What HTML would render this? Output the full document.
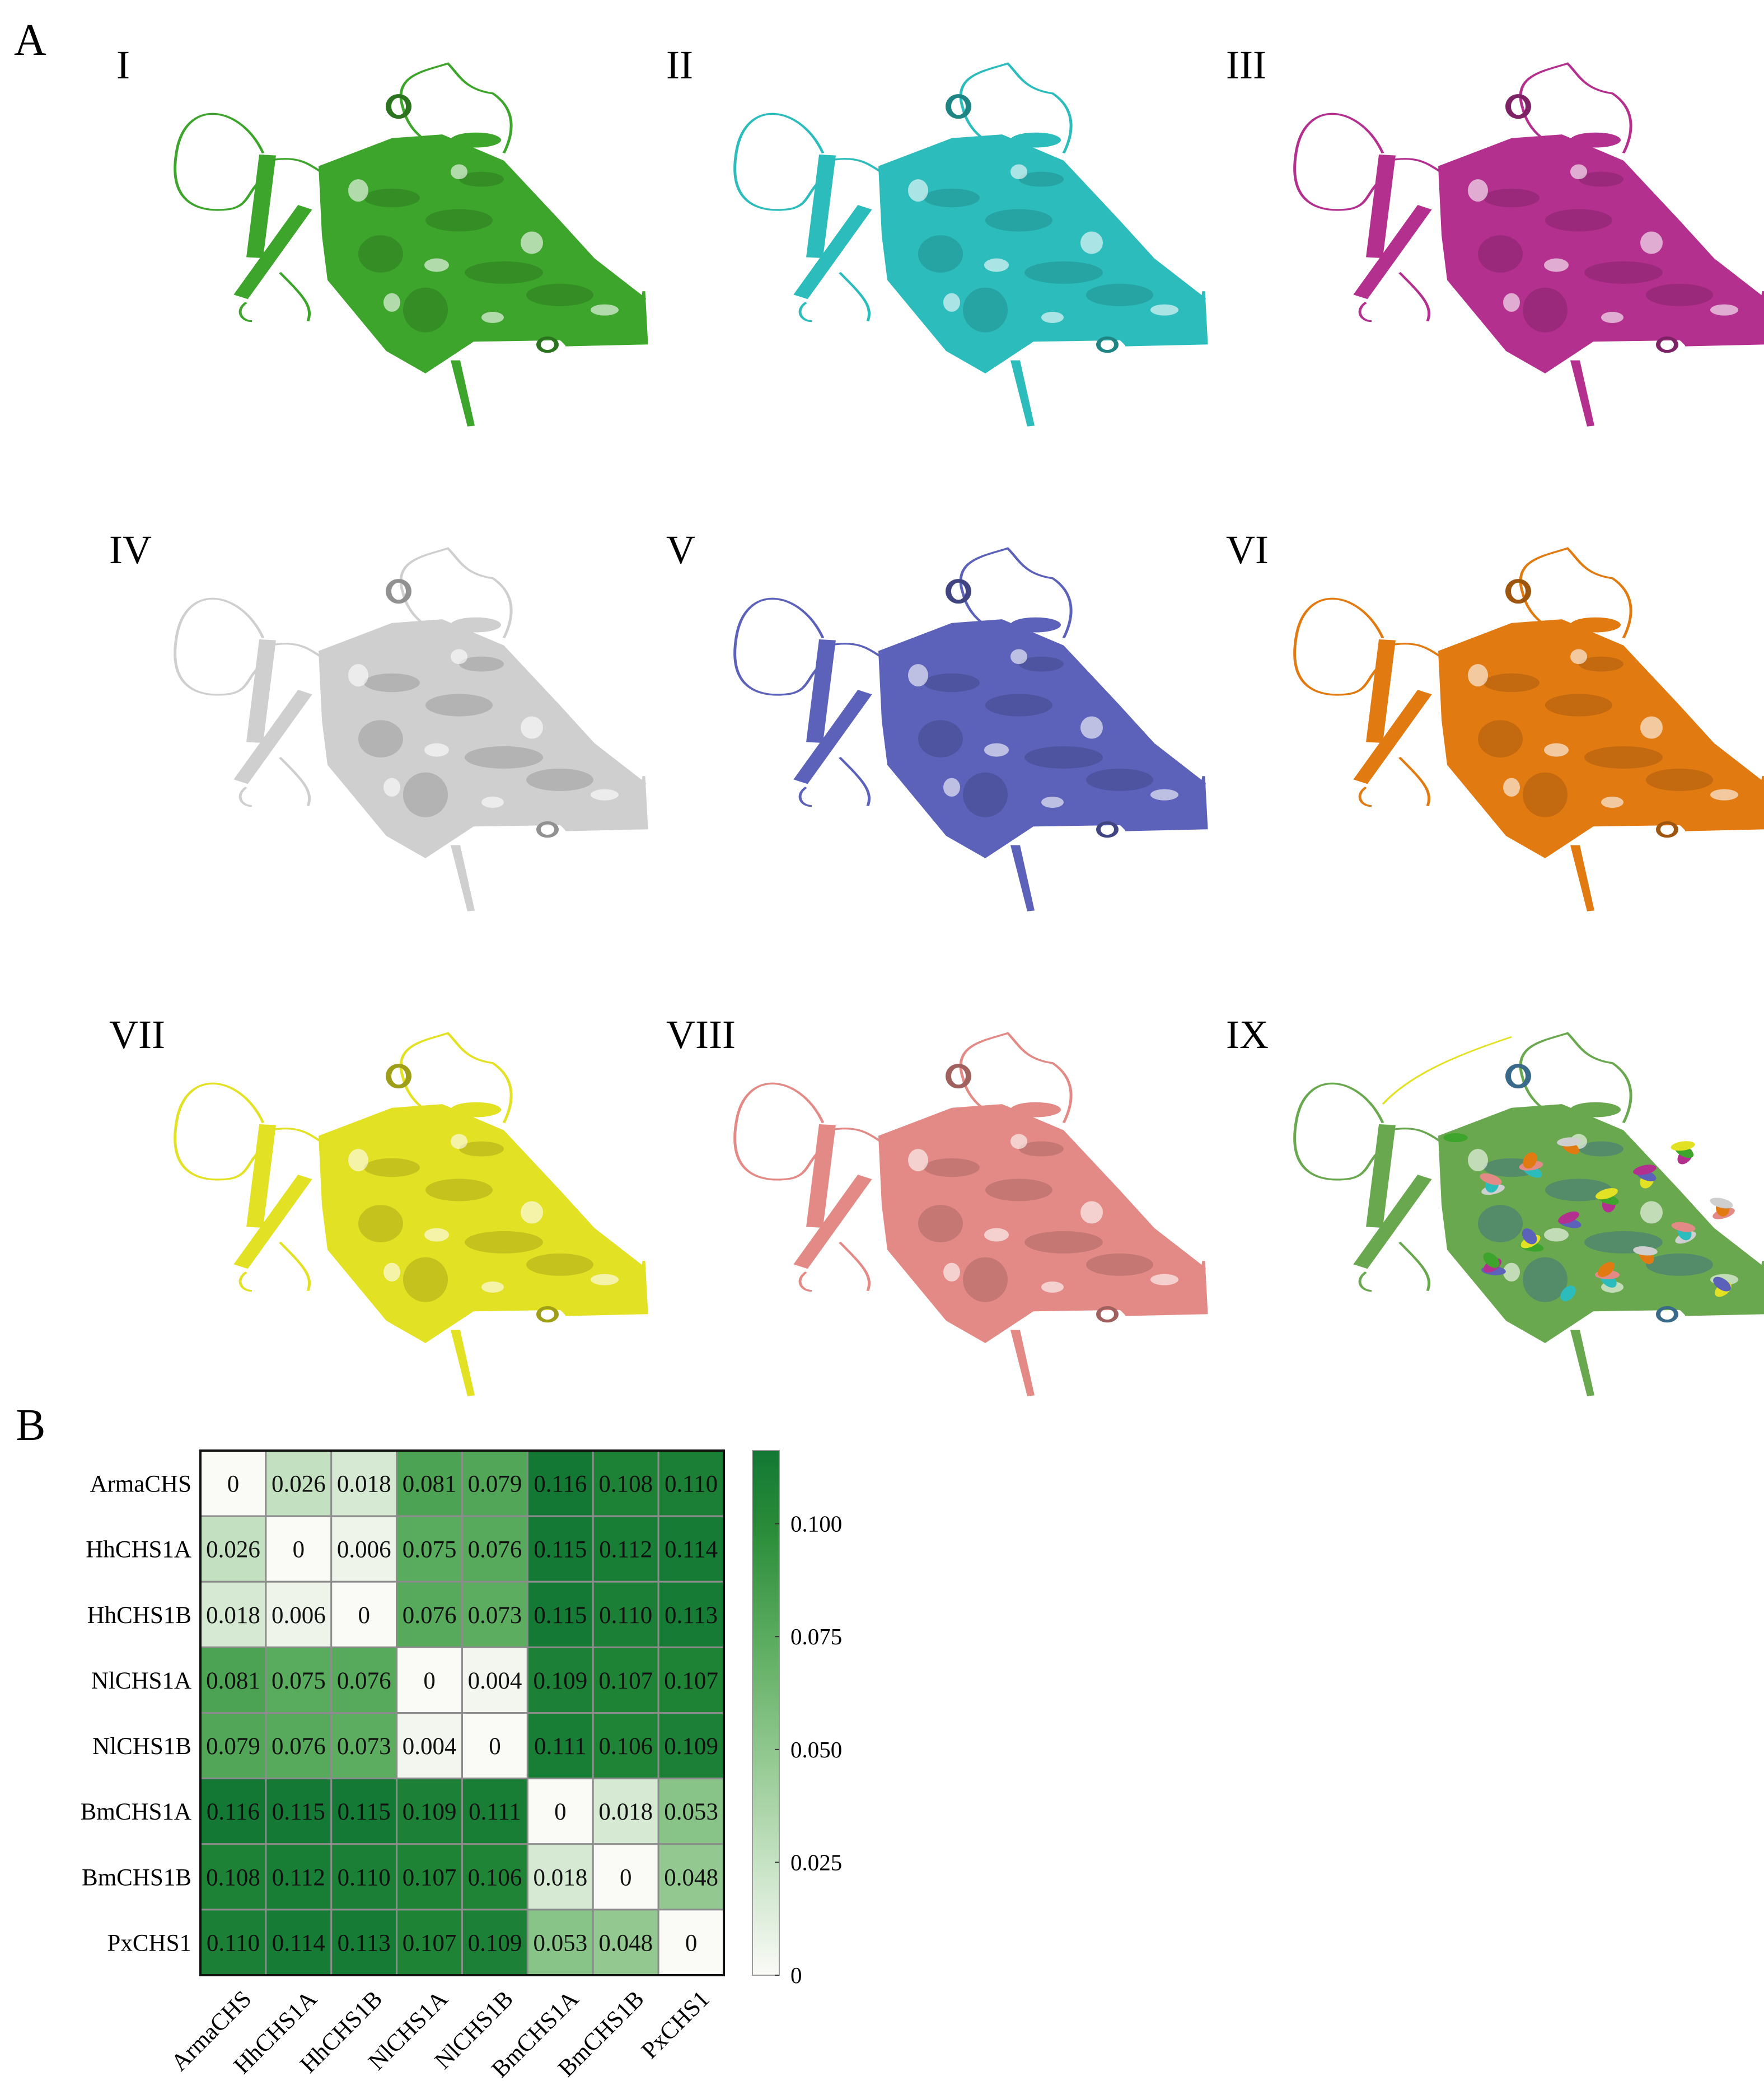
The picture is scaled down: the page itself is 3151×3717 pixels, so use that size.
<!DOCTYPE html>
<html><head><meta charset="utf-8"><style>
html,body{margin:0;padding:0;background:#fff}
svg{display:block}
text{font-family:"Liberation Serif",serif}
</style></head><body>
<svg id="fig" width="3151" height="3717" viewBox="0 0 3151 3717" xmlns="http://www.w3.org/2000/svg">
<text x="25" y="98" font-size="80">A</text>
<text x="28" y="2572" font-size="80">B</text>
<g id="structs"></g>
<g id="heat"></g>
</svg>
<script>
const labels = ["ArmaCHS","HhCHS1A","HhCHS1B","NlCHS1A","NlCHS1B","BmCHS1A","BmCHS1B","PxCHS1"];
const row0 = [0,0.026,0.018,0.081,0.079,0.116,0.108,0.110];
const row1 = [0.026,0,0.006,0.075,0.076,0.115,0.112,0.114];
const row2 = [0.018,0.006,0,0.076,0.073,0.115,0.110,0.113];
const row3 = [0.081,0.075,0.076,0,0.004,0.109,0.107,0.107];
const row4 = [0.079,0.076,0.073,0.004,0,0.111,0.106,0.109];
const row5 = [0.116,0.115,0.115,0.109,0.111,0,0.018,0.053];
const row6 = [0.108,0.112,0.110,0.107,0.106,0.018,0,0.048];
const row7 = [0.110,0.114,0.113,0.107,0.109,0.053,0.048,0];
const matrix = [row0,row1,row2,row3,row4,row5,row6,row7];
const cbTicks = [0,0.025,0.050,0.075,0.100];
const cbTickLabels = ["0","0.025","0.050","0.075","0.100"];
const vmax = 0.1162;

const panelNames = ["I","II","III","IV","V","VI","VII","VIII","IX"];
const panelColors = ["#3da52b","#2cbcbc","#b3308f","#cfcfcf","#5c62ba","#e27a12","#e3e124","#e48a86","multi"];

const NS="http://www.w3.org/2000/svg";
function mk(tag,attrs,parent){const e=document.createElementNS(NS,tag);for(const k in attrs)e.setAttribute(k,attrs[k]);parent.appendChild(e);return e;}

const stops=[[0,[250,250,246]],[0.15,[214,234,212]],[0.4,[150,203,148]],[0.65,[88,170,92]],[0.85,[42,140,56]],[1,[18,120,52]]];
function col(v){let t=Math.max(0,Math.min(1,v/vmax));for(let i=1;i<stops.length;i++){if(t<=stops[i][0]){const a=stops[i-1],b=stops[i];const f=(t-a[0])/(b[0]-a[0]);const c=a[1].map((x,j)=>Math.round(x+(b[1][j]-x)*f));return `rgb(${c})`;}}return "rgb(18,120,52)";}

const H=document.getElementById('heat');
const x0=358,y0=2591,W=935,Hh=937,n=labels.length,cw=W/n,ch=Hh/n;
const xs=i=>x0+i*cw, ys=j=>y0+j*ch;
matrix.forEach((r,j)=>r.forEach((v,i)=>{
  const c=mk('rect',{x:xs(i),y:ys(j),width:cw,height:ch,fill:col(v),stroke:'#8c8c8c','stroke-width':3},H);
  
  
  const t=mk('text',{x:xs(i)+cw/2,y:ys(j)+ch/2+15,'font-size':43,'text-anchor':'middle',fill:'#111'},H);
  t.textContent=v===0?"0":v.toFixed(3);
  
  
}));
mk('rect',{x:x0,y:y0,width:W,height:Hh,fill:'none',stroke:'#111','stroke-width':4},H);
labels.forEach((l,j)=>{
  const t=mk('text',{x:x0-16,y:ys(j)+ch/2+15,'font-size':43,'text-anchor':'end'},H);
  t.textContent=l;
  
  
  const cx=xs(j)+cw/2+35, cy=y0+Hh+45;
  const u=mk('text',{x:cx,y:cy,'font-size':43,'text-anchor':'end',transform:`rotate(-45 ${cx} ${cy})`},H);
  u.textContent=l;
  
  
});
const cbx=1344,cbw=48,cbTop=2591,cbBot=3528;
const defs=mk('defs',{},H);
const lg=mk('linearGradient',{id:'cbg',x1:0,y1:1,x2:0,y2:0},defs);
for(let k=0;k<=20;k++){mk('stop',{offset:k/20,'stop-color':col(vmax*k/20)},lg);}
const cb=mk('rect',{x:cbx,y:cbTop,width:cbw,height:cbBot-cbTop,fill:'url(#cbg)',stroke:'#999','stroke-width':2},H);


const cy=v=>cbBot-(v/vmax)*(cbBot-cbTop);
cbTicks.forEach((v,k)=>{
  mk('line',{x1:cbx+cbw-8,x2:cbx+cbw,y1:cy(v),y2:cy(v),stroke:'#333','stroke-width':2},H);
  const t=mk('text',{x:cbx+cbw+20,y:cy(v)+14,'font-size':41},H);
  t.textContent=cbTickLabels[k];
  
  
});

const S=document.getElementById('structs');
const multi=["#3da52b","#2cbcbc","#b3308f","#cfcfcf","#5c62ba","#e27a12","#e3e124","#e48a86"];
function shade(hex,f){const c=[1,3,5].map(i=>parseInt(hex.substr(i,2),16));return `rgb(${c.map(x=>Math.round(x*f))})`;}
panelNames.forEach((nm,p)=>{
  const dx=(p%3)*1000, dy=Math.floor(p/3)*866;
  const g=mk('g',{transform:`translate(${dx},${dy})`},S);
  
  
  const t=mk('text',{x:p%3===0 ? (nm==="I"?208:195) : 190,y:140,'font-size':72},g);
  t.textContent=nm;
  
  
  const s=mk('g',{transform:'translate(0,20) scale(1,0.667)'},g);
  const c = panelColors[p]==="multi" ? "#6aa84f" : panelColors[p];
  const dark = panelColors[p]==="multi" ? "#3a6a8a" : shade(c,0.7);
  const lw=5;
  mk('path',{d:'M470 380 C430 250 330 230 315 380 C300 520 360 540 410 530 C450 520 440 470 480 440',fill:'none',stroke:c,'stroke-width':lw},s);
  mk('path',{d:'M480 400 C550 380 560 430 600 450 L640 470',fill:'none',stroke:c,'stroke-width':lw},s);
  mk('path',{d:'M720 260 C700 170 760 160 800 140 C820 170 830 210 880 220 C920 260 920 320 900 380',fill:'none',stroke:c,'stroke-width':lw},s);
  mk('path',{d:'M720 260 C730 320 760 350 780 360',fill:'none',stroke:c,'stroke-width':lw},s);
  mk('path',{d:'M500 700 C540 760 560 790 550 830',fill:'none',stroke:c,'stroke-width':lw},s);
  mk('path',{d:'M440 780 C420 800 430 830 450 830',fill:'none',stroke:c,'stroke-width':lw},s);
  mk('line',{x1:478,y1:385,x2:455,y2:660,stroke:c,'stroke-width':30},s);
  mk('line',{x1:545,y1:525,x2:430,y2:765,stroke:c,'stroke-width':28},s);
  mk('polygon',{points:'569,415 700,340 790,330 900,400 1000,560 1062,662 1154,769 1138,860 1050,880 846,885 760,970 690,910 585,720 575,600',fill:c},s);
  [[700,500,50,25],[820,560,60,30],[900,700,70,30],[760,800,40,60],[1000,760,60,30],[680,650,40,50],[860,450,40,20]].forEach(e=>{
    mk('ellipse',{cx:e[0],cy:e[1],rx:e[2],ry:e[3],fill:dark,opacity:0.45},s);
  });
  [[640,480,18,30],[780,680,22,18],[950,620,20,30],[1080,800,25,15],[700,780,15,25],[880,820,20,15],[820,430,15,20]].forEach(e=>{
    mk('ellipse',{cx:e[0],cy:e[1],rx:e[2],ry:e[3],fill:'#fff',opacity:0.6},s);
  });
  mk('ellipse',{cx:712,cy:255,rx:18,ry:28,fill:'none',stroke:dark,'stroke-width':10},s);
  mk('ellipse',{cx:850,cy:345,rx:45,ry:20,fill:c},s);
  mk('polygon',{points:'805,935 822,935 848,1110 835,1112',fill:c},s);
  mk('path',{d:'M1000 880 L1140 850 L1150 750 L1155 890 L1010 895',fill:c,stroke:c,'stroke-width':lw},s);
  mk('ellipse',{cx:978,cy:893,rx:16,ry:18,fill:'none',stroke:dark,'stroke-width':8},s);
  if(panelColors[p]==="multi"){
    for(let k=0;k<40;k++){
      const px=600+((k*137)%480), py=420+((k*89)%420);
      mk('ellipse',{cx:px,cy:py,rx:22,ry:12,fill:multi[k%8],transform:`rotate(${(k*47)%180} ${px} ${py})`},s);
    }
    mk('path',{d:'M470 330 C520 250 600 200 700 150',fill:'none',stroke:'#e3e124','stroke-width':4},s);
  }
});
</script>
</body></html>
